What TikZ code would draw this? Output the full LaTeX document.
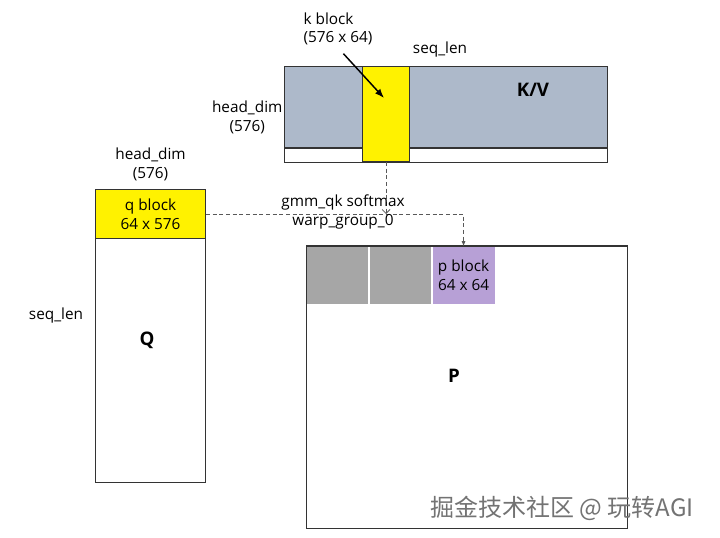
\documentclass[tikz,border=0pt]{standalone}
\usepackage{fontspec}
\setmainfont{Open Sans}
\newfontfamily\cjk{Noto Sans CJK SC}
\usepackage{tikz}
\usetikzlibrary{positioning}
\usetikzlibrary{calc}
\usetikzlibrary{arrows.meta}

\definecolor{kvgray}{RGB}{173,185,202}
\definecolor{pgray}{RGB}{166,166,166}
\definecolor{ppurple}{RGB}{183,160,214}

\tikzset{
    mat/.style={draw=black!80, line width=0.8pt, anchor=north west, inner sep=0pt, font=\fontsize{11.5}{14}\selectfont, align=center},
    lbl/.style={font=\fontsize{11.5}{14}\selectfont, align=center, inner sep=1pt},
    big/.style={font=\fontsize{14}{16}\selectfont\bfseries},
    dashline/.style={densely dashed, black!65, line width=0.6pt},
}

\begin{document}
\begin{tikzpicture}[x=0.75pt, y=-0.75pt]
    \useasboundingbox (0,0) rectangle (720,538);

    % K/V
    \node[mat, fill=kvgray, minimum width={323*0.75pt}, minimum height={81*0.75pt}] (kv) at (284,66) {};
    \node[mat, fill=white, minimum width={323*0.75pt}, minimum height={14*0.75pt}] (kvpad) at (kv.south west) {};
    \node[mat, fill=yellow, minimum width={47*0.75pt}, minimum height={95*0.75pt}] (kblock) at (362,66) {};
    \node[big] (kvname) at (533,90) {K/V};
    \node[lbl, align=left, anchor=west] (klabel) at (302,29) {k block\\(576 x 64)};
    \node[lbl] (kseq) at (440,50) {seq\_len};
    \node[lbl, left=0pt of kv, yshift=-8pt] (kdim) {head\_dim\\(576)};

    % Q
    \node[mat, fill=white, minimum width={110*0.75pt}, minimum height={293*0.75pt}] (qmat) at (95,189) {};
    \node[mat, fill=yellow, minimum width={110*0.75pt}, minimum height={49*0.75pt}] (qblock) at (95,189) {q block\\64 x 576};
    \node[big] (qname) at (147,340) {Q};
    \node[lbl, above=5pt of qmat] (qdim) {head\_dim\\(576)};
    \node[lbl] (qseq) at (56,316) {seq\_len};

    % P
    \node[mat, fill=white, minimum width={321*0.75pt}, minimum height={282*0.75pt}] (pmat) at (306,246) {};
    \node[mat, fill=pgray, draw=none, minimum width={61*0.75pt}, minimum height={57*0.75pt}] (pg1) at (306.5,246.5) {};
    \node[mat, fill=pgray, draw=none, minimum width={61*0.75pt}, minimum height={57*0.75pt}] (pg2) at (369,246.5) {};
    \node[mat, fill=ppurple, draw=none, minimum width={62*0.75pt}, minimum height={57*0.75pt}] (pblock) at (432,246.5) {p block\\64 x 64};
    \draw[black!80, line width=0.8pt] (pmat.north west) -- (pmat.north east);
    \node[big] (pname) at (454,376) {P};

    % gmm_qk
    \coordinate (kend) at (kblock.south |- qblock.east);
    \draw[dashline, -{Straight Barb[length=3pt]}] (kblock.south) -- (kend);
    \draw[dashline, -{Latex[length=4pt]}] (qblock.east) -| (pblock.north);
    \node[lbl] (gmm) at (343,212) {gmm\_qk softmax\\warp\_group\_0};
    \draw[-{Latex[length=7pt]}, line width=1.1pt] ([xshift=4pt,yshift=-5pt]klabel.south) -- ($(kblock.center)+(-2,-16)$);

    \node[font=\cjk\fontsize{18}{20}\selectfont, text=black!55] (mark) at (562,508) {掘金技术社区 @ 玩转AGI};
\end{tikzpicture}
\end{document}
